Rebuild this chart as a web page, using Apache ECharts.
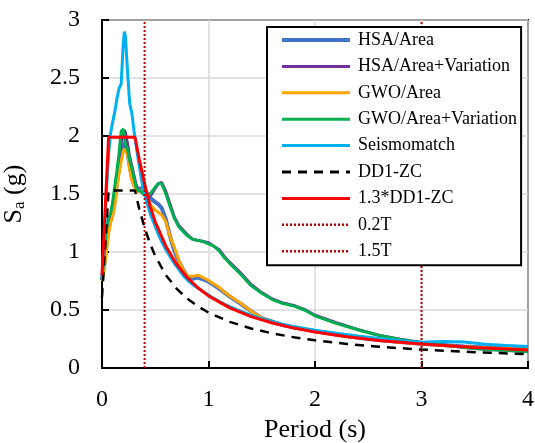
<!DOCTYPE html>
<html>
<head>
<meta charset="utf-8">
<script src="https://cdn.jsdelivr.net/npm/echarts@6/dist/echarts.min.js"></script>
<style>
  html, body { margin: 0; padding: 0; background: #fff; }
  #chart { width: 535px; height: 443px; }
</style>
</head>
<body>
<div id="chart"></div>
<script>
// periods (s) for the recorded spectra
const periods = [0, 0.02, 0.04, 0.06, 0.08, 0.10, 0.12, 0.14, 0.16, 0.18, 0.20, 0.21, 0.22, 0.24, 0.26, 0.28, 0.30, 0.32, 0.34, 0.37, 0.40, 0.43, 0.46, 0.50, 0.53, 0.56, 0.60, 0.64, 0.68, 0.72, 0.76, 0.80, 0.85, 0.90, 0.95, 1.00, 1.05, 1.10, 1.15, 1.20, 1.30, 1.40, 1.50, 1.60, 1.70, 1.80, 1.90, 2.00, 2.20, 2.40, 2.60, 2.80, 3.00, 3.20, 3.40, 3.60, 3.80, 4.00]

const hsaArea = [0.76, 0.88, 1.05, 1.20, 1.27, 1.33, 1.45, 1.60, 1.72, 1.83, 1.92, 1.94, 1.95, 1.86, 1.74, 1.65, 1.59, 1.55, 1.54, 1.55, 1.53, 1.50, 1.46, 1.43, 1.41, 1.38, 1.28, 1.13, 1.01, 0.92, 0.85, 0.79, 0.77, 0.78, 0.765, 0.745, 0.715, 0.685, 0.65, 0.615, 0.555, 0.49, 0.43, 0.40, 0.37, 0.352, 0.335, 0.318, 0.288, 0.262, 0.242, 0.225, 0.21, 0.198, 0.186, 0.177, 0.17, 0.163]
const hsaVar = [0.76, 0.97, 1.17, 1.28, 1.32, 1.40, 1.52, 1.64, 1.80, 1.95, 2.00, 2.05, 2.03, 1.93, 1.82, 1.74, 1.66, 1.58, 1.54, 1.52, 1.49, 1.47, 1.49, 1.55, 1.59, 1.60, 1.52, 1.41, 1.30, 1.23, 1.19, 1.15, 1.11, 1.10, 1.09, 1.08, 1.05, 1.02, 0.96, 0.91, 0.82, 0.72, 0.65, 0.595, 0.56, 0.54, 0.505, 0.455, 0.39, 0.333, 0.283, 0.248, 0.22, 0.20, 0.178, 0.162, 0.152, 0.142]
const gwoArea = [0.75, 0.85, 0.99, 1.15, 1.25, 1.31, 1.40, 1.56, 1.68, 1.78, 1.87, 1.89, 1.90, 1.84, 1.71, 1.62, 1.57, 1.53, 1.52, 1.53, 1.51, 1.46, 1.40, 1.36, 1.34, 1.32, 1.26, 1.13, 1.04, 0.93, 0.85, 0.79, 0.79, 0.80, 0.78, 0.755, 0.725, 0.695, 0.655, 0.62, 0.56, 0.49, 0.43, 0.40, 0.37, 0.35, 0.335, 0.315, 0.285, 0.26, 0.24, 0.222, 0.208, 0.195, 0.183, 0.175, 0.168, 0.16]
const gwoVar = [0.76, 0.98, 1.19, 1.30, 1.33, 1.43, 1.57, 1.70, 1.85, 2.04, 2.06, 1.98, 1.93, 1.89, 1.79, 1.72, 1.64, 1.56, 1.53, 1.52, 1.49, 1.48, 1.51, 1.56, 1.59, 1.59, 1.50, 1.39, 1.29, 1.22, 1.18, 1.14, 1.11, 1.10, 1.09, 1.07, 1.05, 1.01, 0.95, 0.90, 0.81, 0.71, 0.645, 0.59, 0.555, 0.535, 0.50, 0.45, 0.385, 0.33, 0.28, 0.245, 0.218, 0.198, 0.176, 0.16, 0.15, 0.14]
const seismomatch = [0.78, 1.10, 1.50, 1.82, 2.02, 2.12, 2.21, 2.32, 2.41, 2.45, 2.80, 2.90, 2.86, 2.55, 2.28, 2.20, 2.05, 1.92, 1.80, 1.63, 1.50, 1.40, 1.31, 1.22, 1.15, 1.09, 1.02, 0.96, 0.90, 0.85, 0.80, 0.76, 0.72, 0.69, 0.66, 0.63, 0.60, 0.575, 0.55, 0.53, 0.49, 0.455, 0.425, 0.40, 0.375, 0.355, 0.34, 0.325, 0.30, 0.275, 0.255, 0.235, 0.222, 0.228, 0.225, 0.205, 0.195, 0.185]

// design spectrum
const designPeriods = [0, 0.062, 0.31, 0.35, 0.40, 0.45, 0.50, 0.60, 0.70, 0.80, 0.90, 1.00, 1.20, 1.40, 1.60, 1.80, 2.00, 2.30, 2.60, 3.00, 3.50, 4.00]
const dd1 = [0.61, 1.53, 1.53, 1.37, 1.21, 1.075, 0.965, 0.80, 0.685, 0.598, 0.532, 0.478, 0.398, 0.341, 0.298, 0.265, 0.239, 0.207, 0.183, 0.159, 0.136, 0.119]
const dd1x13 = [0.80, 1.99, 1.99, 1.80, 1.59, 1.40, 1.26, 1.05, 0.895, 0.78, 0.692, 0.622, 0.518, 0.443, 0.388, 0.344, 0.31, 0.27, 0.238, 0.207, 0.177, 0.155]

const t02 = 0.4
const t15 = 3.0

const xTicks = [0, 1, 2, 3, 4]
const yTicks = [0, 0.5, 1, 1.5, 2, 2.5, 3]

const font = 'Liberation Serif, Times New Roman, serif'

const pair = (xs, ys) => xs.map((x, i) => [x, ys[i]])

function lineSeries(name, xs, ys, color, width, type) {
  return {
    name: name,
    type: 'line',
    symbol: 'none',
    data: pair(xs, ys),
    lineStyle: { color: color, width: width, type: type || 'solid' },
    itemStyle: { color: color },
    emphasis: { disabled: true },
    animation: false
  }
}

const chart = echarts.init(document.getElementById('chart'), null, { renderer: 'canvas' })

const series = [
  lineSeries('HSA/Area', periods, hsaArea, '#4472C4', 4),
  lineSeries('HSA/Area+Variation', periods, hsaVar, '#7030A0', 3),
  lineSeries('GWO/Area', periods, gwoArea, '#FFA500', 3),
  lineSeries('GWO/Area+Variation', periods, gwoVar, '#00B050', 3),
  lineSeries('Seismomatch', periods, seismomatch, '#00B0F0', 3),
  lineSeries('DD1-ZC', designPeriods, dd1, '#000000', 2.5, [9, 7]),
  lineSeries('1.3*DD1-ZC', designPeriods, dd1x13, '#FF0000', 3),
  lineSeries('0.2T', [t02, t02], [0, 3], '#C00000', 2, [2, 2]),
  lineSeries('1.5T', [t15, t15], [0, 3], '#C00000', 2, [2, 2])
]

// legend samples drawn a little heavier, like the original
const legendItems = series.map(s => ({
  name: s.name,
  lineStyle: { width: s.lineStyle.type === 'solid' ? (s.name === 'HSA/Area' ? 4 : 3) : (s.name === 'DD1-ZC' ? 3 : 2.5) }
}))

const option = {
  backgroundColor: '#fff',
  animation: false,
  grid: {
    left: 102, top: 20, right: 7, bottom: 75,
    outerBoundsMode: 'none',
    containLabel: false,
    show: true, borderColor: '#000', borderWidth: 2, backgroundColor: 'transparent'
  },
  legend: {
    orient: 'vertical',
    left: 267, top: 27,
    padding: [3, 4, 4, 13],
    itemWidth: 68, itemHeight: 14,
    itemGap: 6.4,
    backgroundColor: '#fff',
    borderColor: '#000', borderWidth: 2,
    itemStyle: { opacity: 0 },
    textStyle: { fontFamily: font, fontSize: 18, color: '#000', lineHeight: 20, padding: [0, 0, 0, 3] },
    selectedMode: false,
    data: legendItems
  },
  xAxis: {
    type: 'value',
    min: xTicks[0], max: xTicks[xTicks.length - 1], interval: 1,
    name: 'Period (s)',
    nameLocation: 'middle',
    nameGap: 42,
    nameTextStyle: { fontFamily: font, fontSize: 26, color: '#000' },
    axisLine: { show: true, onZero: false, lineStyle: { color: '#000', width: 2 } },
    axisTick: { show: true, inside: true, length: 7, lineStyle: { color: '#000', width: 2 } },
    axisLabel: { fontFamily: font, fontSize: 24, color: '#000', margin: 20 },
    splitLine: { show: true, lineStyle: { color: '#d9d9d9', width: 1.5 } }
  },
  yAxis: {
    type: 'value',
    min: yTicks[0], max: yTicks[yTicks.length - 1], interval: 0.5,
    name: '{s|S}{sub|a}{s| (g)}',
    nameLocation: 'middle',
    nameRotate: 90,
    nameGap: 74,
    nameTextStyle: {
      fontFamily: font, color: '#000',
      rich: {
        s: { fontFamily: font, fontSize: 26, color: '#000' },
        sub: { fontFamily: font, fontSize: 17, color: '#000', verticalAlign: 'bottom', padding: [10, 0, 0, 0] }
      }
    },
    axisLine: { show: true, onZero: false, lineStyle: { color: '#000', width: 2 } },
    axisTick: { show: true, inside: true, length: 7, lineStyle: { color: '#000', width: 2 } },
    axisLabel: { fontFamily: font, fontSize: 24, color: '#000', margin: 22 },
    splitLine: { show: true, lineStyle: { color: '#d9d9d9', width: 1.5 } }
  },
  series: series
}

chart.setOption(option)
window.addEventListener('resize', () => chart.resize())
</script>
</body>
</html>
